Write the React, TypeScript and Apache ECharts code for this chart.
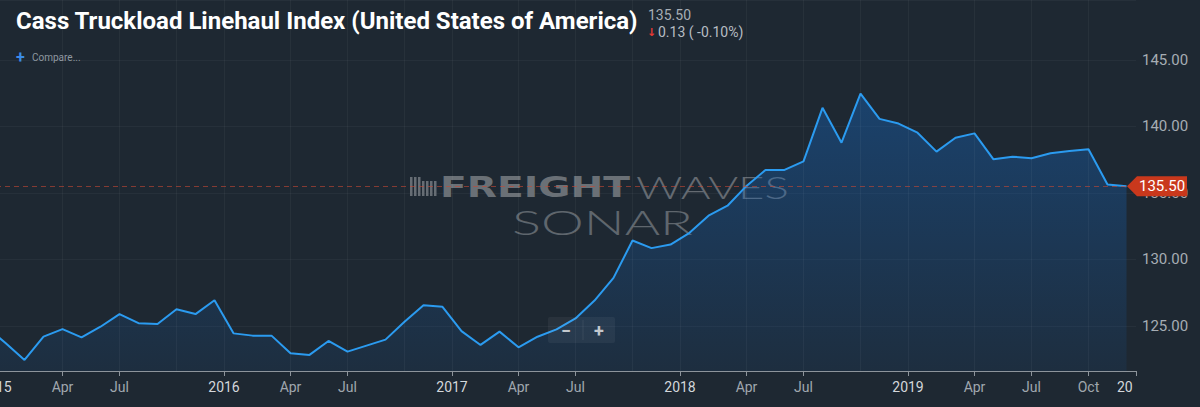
import React, { useEffect, useRef } from "react";
import * as echarts from "echarts";

// ---- data (monthly index values) ----
const DEC_2014 = [124.94];
const Y2015 = [123.7, 122.43, 124.18, 124.75, 124.13, 124.93, 125.88, 125.2, 125.13, 126.25, 125.88, 126.92];
const Y2016 = [124.43, 124.26, 124.26, 122.94, 122.81, 123.86, 123.06, 123.51, 123.96, 125.31, 126.55, 126.43];
const Y2017 = [124.6, 123.56, 124.56, 123.38, 124.18, 124.73, 125.55, 126.9, 128.6, 131.41, 130.84, 131.11];
const Y2018 = [131.99, 133.28, 134.03, 135.52, 136.72, 136.72, 137.37, 141.39, 138.77, 142.46, 140.56, 140.21];
const Y2019 = [139.52, 138.1, 139.14, 139.47, 137.52, 137.72, 137.6, 137.97, 138.14, 138.27, 135.63, 135.5];

const YEAR_VALUES = [Y2015, Y2016, Y2017, Y2018, Y2019];

// axis ticks (position in months from Jan 2015)
const YEAR_TICKS = [0, 12, 24, 36, 48, 60];
const QUARTER_OFFSETS = [3.5, 6.5, 9.5];
const QUARTER_NAMES = ["Apr", "Jul", "Oct"];
const LABEL_TICKS = [0, 3.5, 6.5, 12, 15.5, 18.5, 24, 27.5, 30.5, 36, 39.5, 42.5, 48, 51.5, 54.5, 57.5, 60];

const LAST_VALUE = 135.5;
const CHANGE = "0.13";
const CHANGE_PCT = "( -0.10%)";
const TITLE = "Cass Truckload Linehaul Index (United States of America)";

const X_MIN = 0;
const X_MAX = 60;
const Y_MIN = 121.6;
const Y_MAX = 149.5;

const BG = "#1e2832";

function buildData(): number[][] {
  const out: number[][] = [];
  DEC_2014.forEach((v) => out.push([-1 + 0.5, v]));
  YEAR_VALUES.forEach((arr, yi) => {
    arr.forEach((v, mi) => out.push([yi * 12 + mi + 0.5, v]));
  });
  return out;
}

function gridPositions(): number[] {
  const out: number[] = [];
  YEAR_TICKS.forEach((y) => {
    if (y > X_MIN && y < X_MAX) out.push(y);
    QUARTER_OFFSETS.forEach((q) => {
      if (y + q < X_MAX) out.push(y + q);
    });
  });
  return out;
}

function xLabel(v: number): string {
  if (Math.abs(v - 60) < 1e-6) return "{c|20}";
  const r = v % 12;
  if (Math.abs(r) < 1e-6) return "{y|" + (2015 + Math.round(v / 12)) + "}";
  const qi = QUARTER_OFFSETS.findIndex((q) => Math.abs(q - r) < 1e-6);
  return "{m|" + (qi >= 0 ? QUARTER_NAMES[qi] : "") + "}";
}

export default function App() {
  const ref = useRef<HTMLDivElement>(null);

  useEffect(() => {
    const el = ref.current as HTMLDivElement;
    const chart = echarts.init(el, null, { renderer: "svg" });

    const gridLineStyle = { color: "rgba(255,255,255,0.045)", type: "solid", width: 1 };

    const option: any = {
      animation: false,
      backgroundColor: BG,
      grid: { left: -4, right: 64, top: 0, bottom: 36, containLabel: false, outerBoundsMode: "none" },
      xAxis: {
        type: "value",
        min: X_MIN,
        max: X_MAX,
        axisLine: { show: true, lineStyle: { color: "#8d949b", width: 1 } },
        axisTick: { show: true, length: 5, customValues: LABEL_TICKS, lineStyle: { color: "#8d949b" } },
        splitLine: { show: false },
        axisLabel: {
          customValues: LABEL_TICKS,
          margin: 9,
          hideOverlap: false,
          formatter: xLabel,
          rich: {
            y: { color: "#d3d7db", fontSize: 14, fontFamily: "Roboto" },
            m: { color: "#a0a7ae", fontSize: 14, fontFamily: "Roboto" },
            c: { color: "#d3d7db", fontSize: 14, fontFamily: "Roboto", width: 38, align: "left" },
          },
        },
      },
      yAxis: {
        type: "value",
        position: "right",
        min: Y_MIN,
        max: Y_MAX,
        minInterval: 5,
        maxInterval: 5,
        axisLine: { show: true, lineStyle: { color: "#8d949b", width: 1 } },
        axisTick: { show: true, length: 4, lineStyle: { color: "#6d747b" } },
        splitLine: { show: true, lineStyle: { color: "rgba(255,255,255,0.04)" } },
        axisLabel: {
          showMinLabel: false,
          showMaxLabel: false,
          margin: 6,
          color: "#a6adb4",
          fontSize: 15,
          fontFamily: "Roboto",
          formatter: (v: number) => v.toFixed(2),
        },
      },
      series: [
        {
          type: "line",
          data: buildData(),
          symbol: "none",
          clip: true,
          z: 3,
          lineStyle: { color: "#2b9bf0", width: 2 },
          areaStyle: {
            color: new echarts.graphic.LinearGradient(0, 0, 0, 1, [
              { offset: 0, color: "rgba(22,100,185,0.62)" },
              { offset: 1, color: "rgba(22,100,185,0.14)" },
            ]),
          },
          markLine: {
            silent: true,
            symbol: "none",
            label: { show: false },
            lineStyle: { color: "rgba(200,72,52,0.6)", type: [5, 4], width: 1 },
            data: [
              ...gridPositions().map((v) => ({ xAxis: v, lineStyle: gridLineStyle })),
              { yAxis: LAST_VALUE },
            ],
          },
        },
      ],
    };
    chart.setOption(option);

    const p = chart.convertToPixel({ gridIndex: 0 }, [X_MAX, LAST_VALUE]) as number[];
    const ax = p[0];
    const ay = p[1];

    const txt = (
      text: string,
      x: number,
      y: number,
      font: string,
      fill: string,
      extra: any = {},
      align = "left"
    ) => ({
      type: "text",
      x,
      y,
      z: 100,
      ...extra,
      style: {
        text,
        font,
        fill,
        textAlign: align,
        align,
        textVerticalAlign: "middle",
        verticalAlign: "middle",
      },
    });

    const iconBars = [0, 4, 8, 12, 16, 20, 24].map((dx, i) => ({
      type: "rect",
      z: 1,
      shape: { x: 410 + dx, y: 177 + (i < 3 ? 0 : 4), width: 2.5, height: i < 3 ? 19 : 15 },
      style: { fill: "#666d74" },
    }));

    chart.setOption({
      graphic: [
        txt(TITLE, 16, 21, "bold 24px Roboto", "#ffffff"),
        txt(String(LAST_VALUE.toFixed(2)), 648, 15, "14px Roboto", "#a7aeb5"),
        txt("↓", 647, 32, "bold 11px 'DejaVu Sans'", "#e53935"),
        txt(CHANGE + " " + CHANGE_PCT, 658, 32, "14px Roboto", "#b7bdc3"),
        txt("+", 16, 57, "bold 16px Roboto", "#3b8be6"),
        txt("Compare...", 32, 57, "10px Roboto", "#8f98a1"),
        ...iconBars,
        { ...txt("FREIGHT", 440, 187, "bold 28px 'DejaVu Sans'", "#6a7076", { scaleX: 1.4 }), z: 1 },
        { ...txt("WAVES", 636, 187, "300 31px Lato", "#646a71", { scaleX: 1.47 }), z: 1 },
        { ...txt("SONAR", 512, 222, "300 33px Lato", "#5f666d", { scaleX: 1.64 }), z: 1 },
        {
          type: "rect",
          z: 100,
          shape: { x: 548, y: 317, width: 67, height: 26, r: 2 },
          style: { fill: "rgba(255,255,255,0.05)" },
        },
        {
          type: "line",
          z: 101,
          shape: { x1: 583, y1: 320, x2: 583, y2: 340 },
          style: { stroke: "rgba(255,255,255,0.08)", lineWidth: 1 },
        },
        txt("−", 566, 330, "bold 18px Roboto", "#c3c8cd", {}, "center"),
        txt("+", 599, 330, "bold 18px Roboto", "#c3c8cd", {}, "center"),
        {
          type: "polygon",
          z: 110,
          shape: {
            points: [
              [ax - 9, ay],
              [ax + 1, ay - 10],
              [ax + 51, ay - 10],
              [ax + 51, ay + 10],
              [ax + 1, ay + 10],
            ],
          },
          style: { fill: "#c9381c" },
        },
        txt(LAST_VALUE.toFixed(2), ax + 26, ay, "15px Roboto", "#ffffff", { z: 111 }, "center"),
      ],
    });

    return () => chart.dispose();
  }, []);

  return (
    <div
      ref={ref}
      style={{ position: "absolute", left: 0, top: 0, width: 1200, height: 407, background: BG }}
    />
  );
}
